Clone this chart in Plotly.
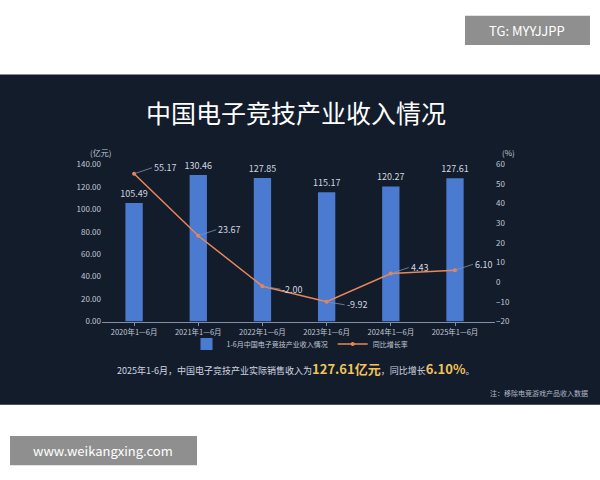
import plotly.graph_objects as go

cats = ["2020年1—6月", "2021年1—6月", "2022年1—6月", "2023年1—6月", "2024年1—6月", "2025年1—6月"]
revenue = [105.49, 130.46, 127.85, 115.17, 120.27, 127.61]
growth = [55.17, 23.67, -2.00, -9.92, 4.43, 6.10]
left_ticks = [0, 20, 40, 60, 80, 100, 120, 140]
right_ticks = [-20, -10, 0, 10, 20, 30, 40, 50, 60]

FONT = "Noto Sans CJK SC"
fig = go.Figure()
fig.add_bar(x=cats, y=revenue, name="1-6月中国电子竞技产业收入情况", marker_color="#4a7bd0",
            marker_line_width=0, width=0.27, text=[f"{v:.2f}" for v in revenue], textposition="outside",
            constraintext="none", textfont=dict(color="#d0d6e0", size=9), cliponaxis=False)
fig.add_scatter(x=cats, y=growth, name="同比增长率", yaxis="y2", mode="lines+markers",
                line=dict(color="#e8875a", width=1.5), marker=dict(size=4, color="#e8875a"))
for c, g in zip(cats, growth):
    fig.add_annotation(x=c, y=g, yref="y2", text=f"{g:.2f}", showarrow=True, arrowhead=0,
                       arrowcolor="#8090a8", arrowwidth=0.8, ax=18, ay=-6 if g > 0 else 3,
                       xanchor="left", font=dict(color="#d0d6e0", size=9))

def px(x):
    return x / 600
def py(y):
    return (480 - y) / 480

fig.add_shape(type="rect", xref="paper", yref="paper", x0=0, x1=1, y0=py(408), y1=py(70),
              fillcolor="#131c2b", line_width=0, layer="below")
fig.add_shape(type="rect", xref="paper", yref="paper", x0=px(465), x1=px(590),
              y0=py(40), y1=py(10), fillcolor="#8f8f8f", line_width=0, layer="below")
fig.add_shape(type="rect", xref="paper", yref="paper", x0=px(10), x1=px(197),
              y0=py(470), y1=py(440), fillcolor="#8f8f8f", line_width=0, layer="below")

texts = [
    (296, 108, "中国电子竞技产业收入情况", 25, "#ffffff", "center"),
    (527, 25, "TG: MYYJJPP", 13, "#ffffff", "center"),
    (103, 455, "www.weikangxing.com", 13, "#ffffff", "center"),
    (100, 150, "(亿元)", 8, "#c0c8d4", "center"),
    (508, 150, "(%)", 8, "#c0c8d4", "center"),
    (295, 371, "2025年1-6月，中国电子竞技产业实际销售收入为<span style='color:#f0c35a;font-size:13px'><b>127.61亿元</b></span>，同比增长<span style='color:#f0c35a;font-size:13px'><b>6.10%</b></span>。", 9, "#d0d6e0", "center"),
    (590, 396, "注：移除电竞游戏产品收入数据", 7, "#b0b8c4", "right"),
]
for x, y, t, s, c, a in texts:
    fig.add_annotation(xref="paper", yref="paper", x=px(x), y=py(y), text=t, showarrow=False,
                       xanchor=a, yanchor="middle", font=dict(size=s, color=c, family=FONT))

fig.update_layout(
    width=600, height=480, margin=dict(l=0, r=0, t=0, b=0),
    paper_bgcolor="#ffffff", plot_bgcolor="rgba(0,0,0,0)",
    font=dict(family=FONT, color="#c0c8d4", size=9),
    showlegend=True, bargap=0.7,
    legend=dict(orientation="h", x=0.5, xanchor="center", y=py(346), yanchor="middle",
                font=dict(size=7, color="#c0c8d4"), bgcolor="rgba(0,0,0,0)", itemwidth=30),
    xaxis=dict(domain=[px(102), px(495)], showline=True, linecolor="#8090a8", ticks="outside",
               tickcolor="#8090a8", ticklen=3, tickfont=dict(size=7.5), showgrid=False),
    yaxis=dict(domain=[py(323), py(162)], range=[0, 140], tickvals=left_ticks, tickformat=".2f",
               showgrid=False, zeroline=False, tickfont=dict(size=8)),
    yaxis2=dict(overlaying="y", side="right", range=[-20, 60], tickvals=right_ticks,
                showgrid=False, zeroline=False, tickfont=dict(size=8)),
)
fig.write_html("out.html", config={"displayModeBar": False},
               post_script="document.body.style.margin='0';")
